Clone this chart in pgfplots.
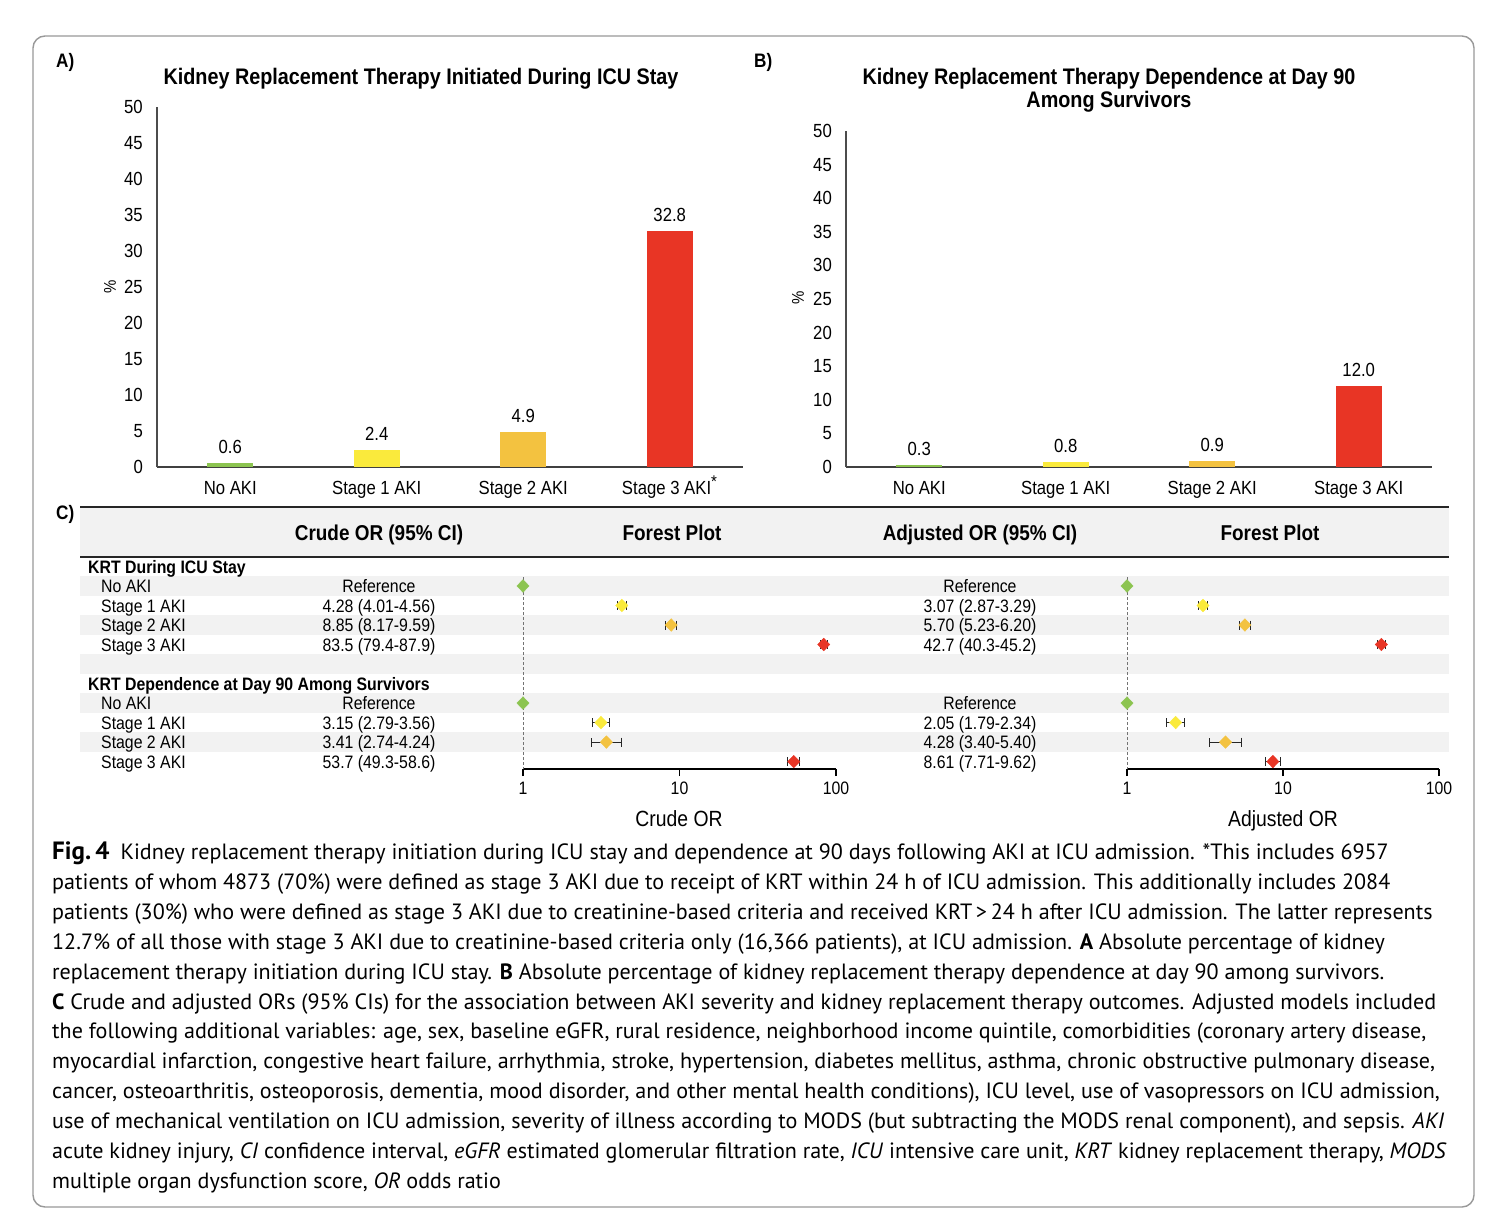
\documentclass[border=0pt]{standalone}
\usepackage{fontspec}
\usepackage{pgfplots}
\pgfplotsset{compat=1.18}
\setmainfont{PT Sans}
\newfontfamily\cf[FakeStretch=0.88]{Liberation Sans}
\definecolor{cgreen}{RGB}{140,196,80}
\definecolor{cyellow}{RGB}{250,234,60}
\definecolor{corange}{RGB}{243,194,64}
\definecolor{cred}{RGB}{232,53,37}
\definecolor{band}{RGB}{242,242,242}
\newcommand\fs[1]{\fontsize{#1}{#1}\selectfont}

\pgfplotsset{
  barpanel/.style={
    anchor=south west, scale only axis, width=586pt,
    xmin=0, xmax=4, ymin=0, ymax=50,
    axis x line*=bottom, axis y line*=left,
    x axis line style={-, draw=black!75, line width=1.6pt},
    y axis line style={-, draw=black!70, line width=1.2pt},
    xtick={0.5,1.5,2.5,3.5}, ytick={0,5,...,50}, major tick length=0pt,
    tick label style={font=\cf\fs{19}},
    yticklabel style={anchor=east, inner sep=0pt, xshift=-14pt},
    xticklabel style={anchor=base, inner sep=0pt, yshift=-27pt},
    /pgf/number format/assume math mode=true,
    nodes near coords,
    nodes near coords style={font=\cf\fs{19}, inner sep=0pt, yshift=9pt,
      /pgf/number format/fixed, /pgf/number format/precision=1,
      /pgf/number format/fixed zerofill},
    every axis plot/.append style={ybar, bar width=46pt, bar shift=0pt, draw=none},
    clip=false},
  forestax/.style={
    anchor=south west, scale only axis, height=192pt,
    xmin=1, xmax=100, ymin=-0.46, ymax=9.38, y dir=reverse,
    axis x line*=bottom, axis y line*=left,
    x axis line style={-, black, line width=1.6pt},
    y axis line style={-, black!55, densely dashed, line width=0.8pt},
    xtick={1,10,100}, xticklabels={1,10,100}, xminorticks=false, ytick=\empty,
    tick align=outside, major tick length=7pt, xtick style={black, line width=1.2pt},
    xticklabel style={font=\cf\fs{18}, anchor=base, inner sep=0pt, yshift=-18.5pt},
    /pgf/number format/assume math mode=true,
    clip=false},
  dm/.style={only marks, mark=diamond*, mark size=6.3pt, #1,
    mark options={xscale=1.3}},
  fm/.style={dm=#1,
    error bars/x dir=both, error bars/x explicit,
    error bars/error mark=|,
    error bars/error bar style={black!85, line width=0.9pt},
    error bars/error mark options={black!85, mark size=4.5pt, line width=1pt}},
}

\begin{document}
\begin{tikzpicture}
\useasboundingbox (0,0) rectangle (1486pt,-1228pt);
\fill[white] (0,0) rectangle (1486pt,-1228pt);
\draw[black!40, line width=1.4pt, rounded corners=12pt] (33pt,-36pt) rectangle (1474pt,-1207pt);

\begin{scope}[x=1pt,y=-1pt]
  % panel C background
  \fill[band] (80,507) rectangle (1449,557);
  \foreach \c in {586,625,664,703,742} \fill[band] (80,\c-9.75) rectangle (1449,\c+9.75);
  \draw[black!85, line width=2pt] (80,507) -- (1449,507);
  \draw[black!85, line width=2pt] (80,557) -- (1449,557);

  % panel labels and titles
  \node[font=\cf\bfseries\fs{19.5}, anchor=base west, inner sep=0pt] at (56,68) {A)};
  \node[font=\cf\bfseries\fs{19.5}, anchor=base west, inner sep=0pt] at (754,68) {B)};
  \node[font=\cf\bfseries\fs{19.5}, anchor=base west, inner sep=0pt] at (56,519) {C)};
  \node[font=\cf\bfseries\fs{22.5}, anchor=base, inner sep=0pt] at (421,85) {Kidney Replacement Therapy Initiated During ICU Stay};
  \node[font=\cf\bfseries\fs{22.5}, anchor=base, inner sep=0pt] at (1109,85) {Kidney Replacement Therapy Dependence at Day 90};
  \node[font=\cf\bfseries\fs{22.5}, anchor=base, inner sep=0pt] at (1109,108) {Among Survivors};
  \node[font=\cf\fs{17}, rotate=90, inner sep=0pt] at (110,287) {\%};
  \node[font=\cf\fs{17}, rotate=90, inner sep=0pt] at (798,298) {\%};

  % panel C header
  \node[font=\cf\bfseries\fs{21.5}, anchor=base, inner sep=0pt] at (379,540) {Crude OR (95\% CI)};
  \node[font=\cf\bfseries\fs{21.5}, anchor=base, inner sep=0pt] at (672,540) {Forest Plot};
  \node[font=\cf\bfseries\fs{21.5}, anchor=base, inner sep=0pt] at (980,540) {Adjusted OR (95\% CI)};
  \node[font=\cf\bfseries\fs{21.5}, anchor=base, inner sep=0pt] at (1270,540) {Forest Plot};

  % panel C rows
  \begin{scope}[every node/.style={font=\cf\fs{18}, inner sep=0pt}]
    \node[font=\cf\bfseries\fs{18}, anchor=base west] at (88,573.5) {KRT During ICU Stay};
    \node[font=\cf\bfseries\fs{18}, anchor=base west] at (88,690) {KRT Dependence at Day 90 Among Survivors};
    \node[anchor=base west] at (101,592.5) {No AKI};
    \node[anchor=base west] at (101,612) {Stage 1 AKI};
    \node[anchor=base west] at (101,631.5) {Stage 2 AKI};
    \node[anchor=base west] at (101,651) {Stage 3 AKI};
    \node[anchor=base west] at (101,709.5) {No AKI};
    \node[anchor=base west] at (101,729) {Stage 1 AKI};
    \node[anchor=base west] at (101,748.5) {Stage 2 AKI};
    \node[anchor=base west] at (101,768) {Stage 3 AKI};
    \node[anchor=base] at (379,592.5) {Reference};
    \node[anchor=base] at (379,612) {4.28 (4.01-4.56)};
    \node[anchor=base] at (379,631.5) {8.85 (8.17-9.59)};
    \node[anchor=base] at (379,651) {83.5 (79.4-87.9)};
    \node[anchor=base] at (379,709.5) {Reference};
    \node[anchor=base] at (379,729) {3.15 (2.79-3.56)};
    \node[anchor=base] at (379,748.5) {3.41 (2.74-4.24)};
    \node[anchor=base] at (379,768) {53.7 (49.3-58.6)};
    \node[anchor=base] at (980,592.5) {Reference};
    \node[anchor=base] at (980,612) {3.07 (2.87-3.29)};
    \node[anchor=base] at (980,631.5) {5.70 (5.23-6.20)};
    \node[anchor=base] at (980,651) {42.7 (40.3-45.2)};
    \node[anchor=base] at (980,709.5) {Reference};
    \node[anchor=base] at (980,729) {2.05 (1.79-2.34)};
    \node[anchor=base] at (980,748.5) {4.28 (3.40-5.40)};
    \node[anchor=base] at (980,768) {8.61 (7.71-9.62)};
  \end{scope}
  \node[font=\cf\fs{22}, anchor=base, inner sep=0pt] at (679,826) {Crude OR};
  \node[font=\cf\fs{22}, anchor=base, inner sep=0pt] at (1283,826) {Adjusted OR};

  % caption
  \begin{scope}[every node/.style={font=\fs{22.1}, anchor=base west, inner sep=0pt}]
    \node at (52,859) {{\fs{25}\textbf{Fig.\,4}}\hspace{0.5em}Kidney replacement therapy initiation during ICU stay and dependence at 90 days following AKI at ICU admission. *This includes 6957};
    \node at (52,889) {patients of whom 4873 (70\%) were defined as stage 3 AKI due to receipt of KRT within 24 h of ICU admission. This additionally includes 2084};
    \node at (52,919) {patients (30\%) who were defined as stage 3 AKI due to creatinine-based criteria and received KRT\,>\,24 h after ICU admission. The latter represents};
    \node at (52,949) {12.7\% of all those with stage 3 AKI due to creatinine-based criteria only (16,366 patients), at ICU admission. \textbf{A} Absolute percentage of kidney};
    \node at (52,979) {replacement therapy initiation during ICU stay. \textbf{B} Absolute percentage of kidney replacement therapy dependence at day 90 among survivors.};
    \node at (52,1009) {\textbf{C} Crude and adjusted ORs (95\% CIs) for the association between AKI severity and kidney replacement therapy outcomes. Adjusted models included};
    \node at (52,1038) {the following additional variables: age, sex, baseline eGFR, rural residence, neighborhood income quintile, comorbidities (coronary artery disease,};
    \node at (52,1068) {myocardial infarction, congestive heart failure, arrhythmia, stroke, hypertension, diabetes mellitus, asthma, chronic obstructive pulmonary disease,};
    \node at (52,1098) {cancer, osteoarthritis, osteoporosis, dementia, mood disorder, and other mental health conditions), ICU level, use of vasopressors on ICU admission,};
    \node at (52,1128) {use of mechanical ventilation on ICU admission, severity of illness according to MODS (but subtracting the MODS renal component), and sepsis. \textit{AKI}};
    \node at (52,1158) {acute kidney injury, \textit{CI} confidence interval, \textit{eGFR} estimated glomerular filtration rate, \textit{ICU} intensive care unit, \textit{KRT} kidney replacement therapy, \textit{MODS}};
    \node at (52,1188) {multiple organ dysfunction score, \textit{OR} odds ratio};
  \end{scope}
\end{scope}

% Panel A
\begin{axis}[barpanel, at={(157pt,-467pt)}, height=360pt,
  xticklabels={No AKI, Stage 1 AKI, Stage 2 AKI, Stage 3 AKI\textsuperscript{\fs{17}*}}]
  \addplot[fill=cgreen] coordinates {(0.5,0.6)};
  \addplot[fill=cyellow] coordinates {(1.5,2.4)};
  \addplot[fill=corange] coordinates {(2.5,4.9)};
  \addplot[fill=cred] coordinates {(3.5,32.8)};
\end{axis}

% Panel B
\begin{axis}[barpanel, at={(846pt,-467pt)}, height=336pt,
  xticklabels={No AKI, Stage 1 AKI, Stage 2 AKI, Stage 3 AKI}]
  \addplot[fill=cgreen] coordinates {(0.5,0.3)};
  \addplot[fill=cyellow] coordinates {(1.5,0.8)};
  \addplot[fill=corange] coordinates {(2.5,0.9)};
  \addplot[fill=cred] coordinates {(3.5,12.0)};
\end{axis}

% Panel C, crude forest plot (rows 0-3 ICU stay, rows 6-9 day 90)
\begin{semilogxaxis}[forestax, at={(523pt,-769pt)}, width=313pt]
  \addplot[dm=cgreen] table[x=or, y=row] {
row or
0 1
6 1
};
  \addplot[fm=cyellow] table[x=or, y=row, x error plus expr=\thisrow{hi}-\thisrow{or}, x error minus expr=\thisrow{or}-\thisrow{lo}] {
row or lo hi
1 4.28 4.01 4.56
7 3.15 2.79 3.56
};
  \addplot[fm=corange] table[x=or, y=row, x error plus expr=\thisrow{hi}-\thisrow{or}, x error minus expr=\thisrow{or}-\thisrow{lo}] {
row or lo hi
2 8.85 8.17 9.59
8 3.41 2.74 4.24
};
  \addplot[fm=cred] table[x=or, y=row, x error plus expr=\thisrow{hi}-\thisrow{or}, x error minus expr=\thisrow{or}-\thisrow{lo}] {
row or lo hi
3 83.5 79.4 87.9
9 53.7 49.3 58.6
};
\end{semilogxaxis}

% Panel C, adjusted forest plot
\begin{semilogxaxis}[forestax, at={(1127pt,-769pt)}, width=312pt]
  \addplot[dm=cgreen] table[x=or, y=row] {
row or
0 1
6 1
};
  \addplot[fm=cyellow] table[x=or, y=row, x error plus expr=\thisrow{hi}-\thisrow{or}, x error minus expr=\thisrow{or}-\thisrow{lo}] {
row or lo hi
1 3.07 2.87 3.29
7 2.05 1.79 2.34
};
  \addplot[fm=corange] table[x=or, y=row, x error plus expr=\thisrow{hi}-\thisrow{or}, x error minus expr=\thisrow{or}-\thisrow{lo}] {
row or lo hi
2 5.70 5.23 6.20
8 4.28 3.40 5.40
};
  \addplot[fm=cred] table[x=or, y=row, x error plus expr=\thisrow{hi}-\thisrow{or}, x error minus expr=\thisrow{or}-\thisrow{lo}] {
row or lo hi
3 42.7 40.3 45.2
9 8.61 7.71 9.62
};
\end{semilogxaxis}
\end{tikzpicture}
\end{document}
